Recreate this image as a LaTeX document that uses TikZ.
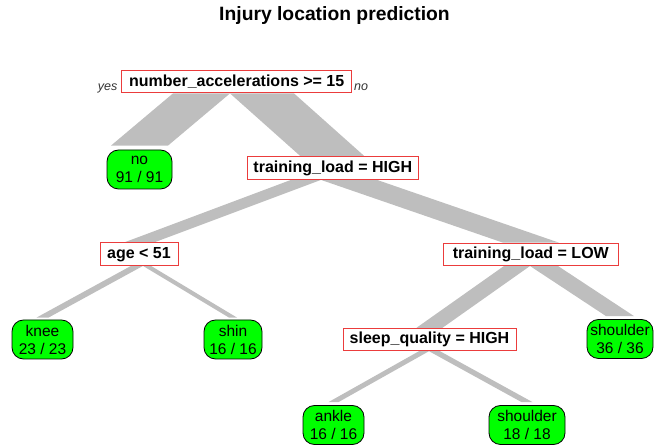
\documentclass[tikz,border=0pt]{standalone}
\usepackage{fontspec}
\setmainfont{Liberation Sans}
\usetikzlibrary{calc}
\pgfdeclarelayer{background}
\pgfsetlayers{background,main}
\definecolor{bandgray}{RGB}{190,190,190}
\definecolor{splitred}{RGB}{235,60,60}
\definecolor{leafgreen}{RGB}{0,255,0}
% parent, child, left offset at parent, right offset at parent, half width at child, gap above child
\newcommand\treeband[6]{%
  \fill[bandgray] let \p1=(#1.south), \p2=(#2.north) in
    (\x1 #3pt,\y1) -- (\x1 #4pt,\y1) -- (\x2+#5pt,\y2+#6pt) -- (\x2-#5pt,\y2+#6pt) -- cycle;}
\begin{document}
\begin{tikzpicture}[x=1pt,y=-1pt,
  splitnode/.style={draw=splitred, line width=0.9pt, fill=white, inner sep=0pt,
    minimum height=22.5pt, font=\fontsize{16}{19}\selectfont\bfseries},
  leafnode/.style={draw=black, line width=0.8pt, fill=leafgreen, rounded corners=11.5pt,
    inner sep=0pt, minimum height=39pt, align=center, font=\fontsize{15.5}{18}\selectfont},
  branchlbl/.style={font=\fontsize{12.5}{14}\selectfont\itshape, text=black!80, inner sep=0pt},
  titlelbl/.style={font=\fontsize{19.3}{22}\selectfont\bfseries, inner sep=0pt}]
\useasboundingbox (0,0) rectangle (657,446);

\node[titlelbl, anchor=base] (title) at (334.5,21) {Injury location prediction};

% split nodes
\node[splitnode, minimum width=230pt] (root) at (236.7,81.7) {number\_accelerations >= 15};
\node[splitnode, minimum width=171pt] (high) at (332.8,168.2) {training\_load = HIGH};
\node[splitnode, minimum width=78pt] (age) at (139,254.2) {age < 51};
\node[splitnode, minimum width=175pt] (low) at (530.8,254.3) {training\_load = LOW};
\node[splitnode, minimum width=173pt] (sleep) at (429.5,339.5) {sleep\_quality = HIGH};

% branch labels
\node[branchlbl, anchor=base east] (yes) at (117.5,91) {yes};
\node[branchlbl, anchor=base west] (nolbl) at (354,91) {no};

% leaves
\node[leafnode, minimum width=65pt] (leafno) at (139.5,169.5) {no\\91 / 91};
\node[leafnode, minimum width=61pt] (knee) at (42.5,339.5) {knee\\23 / 23};
\node[leafnode, minimum width=58pt] (shin) at (233,339.5) {shin\\16 / 16};
\node[leafnode, minimum width=66pt] (shoulderA) at (620,339) {shoulder\\36 / 36};
\node[leafnode, minimum width=61pt] (ankle) at (333.5,425) {ankle\\16 / 16};
\node[leafnode, minimum width=76pt] (shoulderB) at (527,425) {shoulder\\18 / 18};

% wide branches
\begin{pgfonlayer}{background}
\treeband{root}{leafno}{-63.7}{-6.7}{28.5}{4}
\treeband{root}{high}{-6.7}{+57.3}{32}{0}
\treeband{high}{age}{-41.8}{-11.8}{15}{0}
\treeband{high}{low}{-11.8}{+44.2}{28}{0}
\treeband{age}{knee}{-8}{+4}{6}{2}
\treeband{age}{shin}{+4}{+12}{4}{2}
\treeband{low}{sleep}{-26.8}{-0.8}{13}{0}
\treeband{low}{shoulderA}{-0.8}{+27.2}{14}{3}
\treeband{sleep}{ankle}{-10.5}{-0.5}{5}{3}
\treeband{sleep}{shoulderB}{-0.5}{+10.5}{5.5}{3}
\end{pgfonlayer}
\end{tikzpicture}
\end{document}
